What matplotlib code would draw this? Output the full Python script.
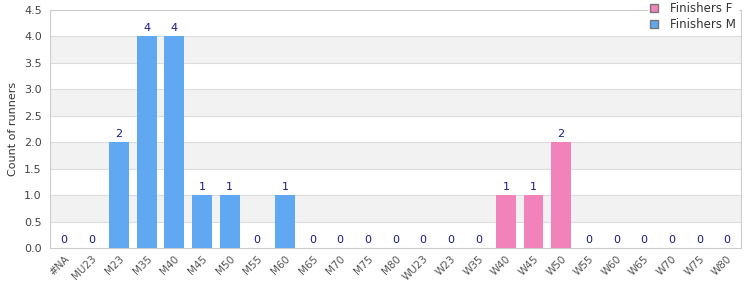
import numpy as np
import matplotlib
matplotlib.use("Agg")
import matplotlib.pyplot as plt
from matplotlib.patches import Patch

categories = ["#NA", "MU23", "M23", "M35", "M40", "M45", "M50", "M55", "M60", "M65",
              "M70", "M75", "M80", "WU23", "W23", "W35", "W40", "W45", "W50", "W55",
              "W60", "W65", "W70", "W75", "W80"]
finishers_m = [0, 0, 2, 4, 4, 1, 1, 0, 1, 0, 0, 0, 0, 0, 0, 0, 0, 0, 0, 0, 0, 0, 0, 0, 0]
finishers_f = [0, 0, 0, 0, 0, 0, 0, 0, 0, 0, 0, 0, 0, 0, 0, 0, 1, 1, 2, 0, 0, 0, 0, 0, 0]

col_m = "#60a8f2"
col_f = "#f283ba"
label_col = "#1a1a8a"

fig = plt.figure(figsize=(7.5, 3), dpi=100)
ax = fig.add_axes([0.0667, 0.173, 0.921, 0.794])

x = np.arange(len(categories))
m = np.array(finishers_m)
f = np.array(finishers_f)
ax.bar(x, m, width=0.72, color=col_m, zorder=3)
ax.bar(x, f, width=0.72, color=col_f, zorder=3)

totals = m + f
for xi, v in zip(x, totals):
    ax.text(xi, v + 0.06, str(v), ha="center", va="bottom", fontsize=8, color=label_col, zorder=4)

ax.set_xlim(-0.5, len(categories) - 0.5)
ax.set_ylim(0, 4.5)
yt = np.arange(0, 4.51, 0.5)
ax.set_yticks(yt)
ax.set_yticklabels([f"{v:.1f}" for v in yt])
for lo in np.arange(0.5, 4.5, 1.0):
    ax.axhspan(lo, lo + 0.5, color="#f2f2f2", zorder=0, lw=0)
for v in yt[1:]:
    ax.axhline(v, color="#dcdcdc", lw=0.8, zorder=1)

ax.set_xticks(x)
ax.set_xticklabels(categories, rotation=45, ha="right", rotation_mode="anchor", fontsize=7.5, color="#555555")
ax.tick_params(axis="y", labelsize=8, labelcolor="#444444", length=0, pad=6)
ax.tick_params(axis="x", length=0, pad=4)
ax.set_ylabel("Count of runners", fontsize=8, color="#333333")

for s in ax.spines.values():
    s.set_color("#cccccc")
    s.set_linewidth(0.8)

handles = [Patch(facecolor=col_f, edgecolor="#777777", label="Finishers F"),
           Patch(facecolor=col_m, edgecolor="#777777", label="Finishers M")]
leg = ax.legend(handles=handles, loc="upper right", bbox_to_anchor=(1.004, 1.065), fontsize=8.5,
                frameon=True, fancybox=False, framealpha=1, edgecolor="white",
                handlelength=0.7, handleheight=0.7, handletextpad=1.0,
                labelspacing=0.25, borderpad=0.15)
leg.set_zorder(10)
for t in leg.get_texts():
    t.set_color("#333333")

fig.savefig("out.png", dpi=100)
